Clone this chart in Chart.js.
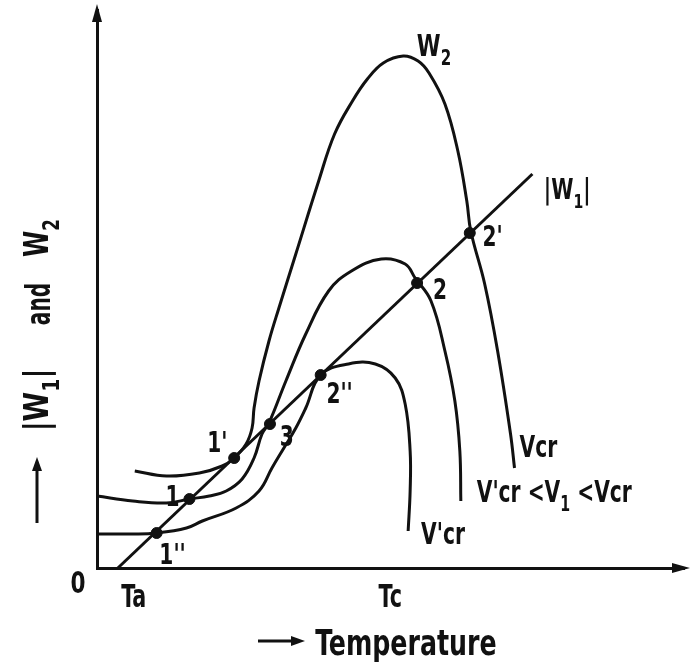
<!DOCTYPE html>
<html>
<head>
<meta charset="utf-8">
<script src="https://cdn.jsdelivr.net/npm/chart.js@4.4.0/dist/chart.umd.min.js"></script>
<style>
  html, body { margin: 0; background: #fff; }
  canvas { display: block; }
</style>
</head>
<body>
<canvas id="chart" width="691" height="665"></canvas>
<script>
// Schematic: |W1| (heat removal line) and W2 (heat generation curves) vs temperature.
// Units are arbitrary.

// |W1| straight line
const w1X = [21, 438];
const w1Y = [0, 394];

// W2 curve for V = Vcr (tallest)
const w2VcrX = [38, 70, 103, 126, 138, 150, 156, 158, 163, 173, 183, 200, 223, 239, 257, 272, 288, 308, 323, 334, 350, 363, 372, 376, 390, 403, 416, 420];
const w2VcrY = [97, 92, 95, 102, 110, 124, 140, 160, 187, 227, 260, 314, 387, 434, 467, 489, 505, 512, 507, 495, 464, 417, 367, 337, 284, 217, 134, 100];

// W2 curve for V'cr < V1 < Vcr (middle)
const w2MidX = [0, 36, 70, 93, 113, 130, 146, 158, 166, 173, 190, 210, 233, 256, 286, 310, 320, 336, 350, 360, 365, 366];
const w2MidY = [72, 67, 65, 69, 72, 77, 89, 110, 134, 145, 187, 234, 277, 297, 309, 304, 290, 267, 217, 167, 117, 67];

// W2 curve for V = V'cr (lowest)
const w2LowX = [0, 36, 60, 90, 106, 140, 163, 176, 188, 200, 210, 225, 253, 280, 300, 310, 315, 315, 313];
const w2LowY = [34, 34, 35, 40, 47, 60, 77, 100, 120, 140, 160, 193, 204, 204, 190, 164, 117, 77, 37];

// intersection points 1'', 1, 1', 3, 2'', 2, 2'
const crossX = [60, 93, 138, 174, 225, 322, 375];
const crossY = [35, 69, 110, 144, 193, 285, 335];

// x-axis tick labels
const xTickValues = [37, 295];
const xTickLabels = ['Ta', 'Tc'];

const INK = '#111';
const FONT = "'DejaVu Sans Condensed', 'DejaVu Sans', sans-serif";

// in-plot annotations: [text, x, y, size, horizontal squeeze]  ('_' = subscript next char)
const notes = [
  ['W_2', 339, 523, 30, 0.8],
  ['|W_1|', 473, 379, 28, 0.8],
  ["2'", 398, 332, 28, 0.8],
  ['2', 345, 279, 28, 0.8],
  ["2''", 244, 175, 28, 0.8],
  ['Vcr', 444, 122, 30, 0.75],
  ["V'cr <V_1 <Vcr", 460, 77, 30, 0.75],
  ["V'cr", 348, 35, 30, 0.75],
  ["1'", 121, 126, 28, 0.8],
  ['3', 191, 132, 28, 0.8],
  ['1', 76, 72, 28, 0.8],
  ["1''", 76, 14, 28, 0.8],
  ['0', -19, -14, 30, 0.8]
];

const toPts = (xs, ys) => xs.map((x, i) => ({ x, y: ys[i] }));

function drawRich(ctx, str, x, y, size, sx, rot) {
  const segs = [];
  for (let i = 0; i < str.length; i++) {
    if (str[i] === '_') { segs.push({ t: str[i + 1], sub: true }); i++; }
    else if (segs.length && !segs[segs.length - 1].sub) segs[segs.length - 1].t += str[i];
    else segs.push({ t: str[i], sub: false });
  }
  const font = s => `bold ${s}px ${FONT}`;
  ctx.save();
  ctx.translate(x, y);
  if (rot) ctx.rotate(rot);
  ctx.scale(sx, 1);
  let w = 0;
  segs.forEach(s => { ctx.font = font(s.sub ? size * 0.7 : size); s.w = ctx.measureText(s.t).width; w += s.w; });
  let cx = -w / 2;
  ctx.textAlign = 'left';
  ctx.textBaseline = 'alphabetic';
  ctx.fillStyle = INK;
  const base = size * 0.365;
  segs.forEach(s => {
    ctx.font = font(s.sub ? size * 0.7 : size);
    ctx.fillText(s.t, cx, base + (s.sub ? size * 0.3 : 0));
    cx += s.w;
  });
  ctx.restore();
}

function arrowHead(ctx, tx, ty, dx, dy, len, half) {
  // tip at (tx,ty), pointing along (dx,dy)
  const px = -dy, py = dx;
  ctx.beginPath();
  ctx.moveTo(tx, ty);
  ctx.lineTo(tx - dx * len + px * half, ty - dy * len + py * half);
  ctx.lineTo(tx - dx * len - px * half, ty - dy * len - py * half);
  ctx.closePath();
  ctx.fill();
}

const annotations = {
  id: 'annotations',
  afterDraw(chart) {
    const { ctx, chartArea: ca, scales: { x, y } } = chart;
    ctx.save();
    ctx.fillStyle = INK;
    ctx.strokeStyle = INK;

    // axis arrow heads
    arrowHead(ctx, ca.left, 4, 0, -1, 18, 5);
    arrowHead(ctx, 690, ca.bottom, 1, 0, 18, 5);

    // annotations placed in data units
    notes.forEach(([t, vx, vy, size, sx]) => drawRich(ctx, t, x.getPixelForValue(vx), y.getPixelForValue(vy), size, sx));

    // tick labels Ta, Tc
    xTickValues.forEach((v, i) => drawRich(ctx, xTickLabels[i], x.getPixelForValue(v), 595, 32, 0.72));

    // x axis title with arrow
    ctx.lineWidth = 3;
    ctx.beginPath(); ctx.moveTo(258, 641); ctx.lineTo(294, 641); ctx.stroke();
    arrowHead(ctx, 305, 641, 1, 0, 14, 5);
    drawRich(ctx, 'Temperature', 406, 642, 36, 0.78);

    // y axis title (rotated) with arrow
    ctx.beginPath(); ctx.moveTo(37, 523); ctx.lineTo(37, 470); ctx.stroke();
    arrowHead(ctx, 37, 457, 0, -1, 14, 5);
    drawRich(ctx, '|W_1|', 36, 400, 34, 0.88, -Math.PI / 2);
    drawRich(ctx, 'and', 38, 304, 34, 0.66, -Math.PI / 2);
    drawRich(ctx, 'W_2', 36, 238, 34, 0.78, -Math.PI / 2);
    ctx.restore();
  }
};

const lineStyle = { showLine: true, borderColor: INK, borderWidth: 3, pointRadius: 0, clip: false, tension: 0.4 };

new Chart(document.getElementById('chart'), {
  type: 'scatter',
  data: {
    datasets: [
      { ...lineStyle, label: '|W1|', data: toPts(w1X, w1Y), tension: 0 },
      { ...lineStyle, label: 'W2, Vcr', data: toPts(w2VcrX, w2VcrY) },
      { ...lineStyle, label: "W2, V'cr < V1 < Vcr", data: toPts(w2MidX, w2MidY) },
      { ...lineStyle, label: "W2, V'cr", data: toPts(w2LowX, w2LowY) },
      {
        label: 'intersections', data: toPts(crossX, crossY), showLine: false,
        pointRadius: 5.5, pointBackgroundColor: INK, pointBorderColor: INK, pointBorderWidth: 1, clip: false
      }
    ]
  },
  options: {
    responsive: false,
    animation: false,
    layout: { padding: { left: 97, right: 3, top: 10, bottom: 97 } },
    scales: {
      x: {
        type: 'linear', min: 0, max: 591,
        grid: { display: false, drawTicks: false },
        ticks: { display: false },
        border: { display: true, color: INK, width: 3 }
      },
      y: {
        type: 'linear', min: 0, max: 558,
        grid: { display: false, drawTicks: false },
        ticks: { display: false },
        border: { display: true, color: INK, width: 3 }
      }
    },
    plugins: {
      legend: { display: false },
      tooltip: { enabled: false }
    }
  },
  plugins: [annotations]
});
</script>
</body>
</html>
